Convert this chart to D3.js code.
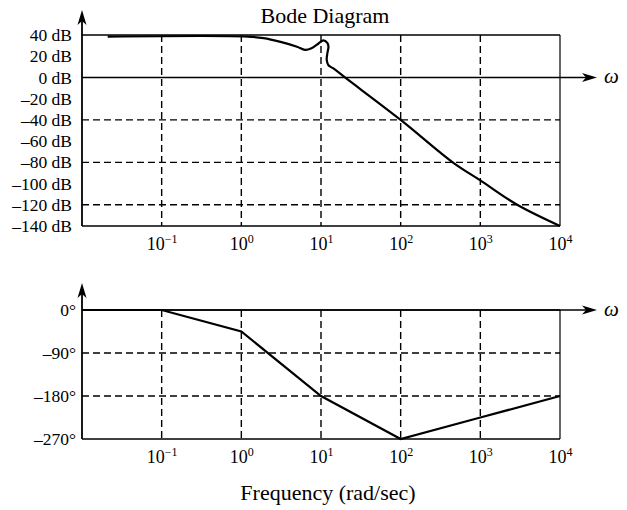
<!DOCTYPE html>
<html>
<head>
<meta charset="utf-8">
<script src="https://cdn.jsdelivr.net/npm/d3@7"></script>
<style>
  body { margin: 0; background: #fff; }
  svg { display: block; font-family: "Liberation Serif", "Times New Roman", serif; }
</style>
</head>
<body>
<script>
const width = 627;
const height = 510;

// magnitude curve (rad/sec, dB)
const magFreq = [0.021, 1.2, 1.9, 3.1, 5.0, 6.3, 7.6, 9.3, 10.7, 12.0, 12.4, 12.0, 11.8, 12.4, 14.3, 20, 100, 450, 1000, 2900, 10000];
const magDb   = [38.5, 38.5, 37, 33.5, 29, 26, 27.5, 32, 35, 32.5, 29, 22.5, 16.5, 11.5, 8.5, 0, -40, -80, -97, -120, -140];

// phase curve (rad/sec, degrees)
const phaseFreq = [0.01, 0.1, 1, 10, 100, 1000, 10000];
const phaseDeg  = [0, 0, -45, -180, -270, -225, -180];

// ticks
const freqTicks = [0.1, 1, 10, 100, 1000, 10000];
const gridFreq = [0.1, 1, 10, 100, 1000];
const magTicks = [40, 20, 0, -20, -40, -60, -80, -100, -120, -140];
const magGrid = [-40, -80, -120];
const phaseTicks = [0, -90, -180, -270];
const phaseGrid = [-90, -180];

const x = d3.scaleLog().domain([0.01, 10000]).range([82, 560]);
const yMag = d3.scaleLinear().domain([-140, 40]).range([226, 35]);
const yPh = d3.scaleLinear().domain([-270, 0]).range([439, 310]);

const svg = d3.select(document.body).append("svg")
    .attr("width", width)
    .attr("height", height);

svg.append("rect").attr("width", width).attr("height", height).attr("fill", "#fff");

const minus = v => (v < 0 ? "\u2013" : "") + Math.abs(v);

function arrowHead(g, tipX, tipY, dir) {
    // dir: "up" or "right"
    const l = 15, w = 4.5;
    let pts;
    if (dir === "up") pts = [[tipX, tipY], [tipX + w, tipY + l], [tipX, tipY + l - 4], [tipX - w, tipY + l]];
    else pts = [[tipX, tipY], [tipX - l, tipY - w], [tipX - l + 4, tipY], [tipX - l, tipY + w]];
    g.append("path").attr("d", "M" + pts.join("L") + "Z").attr("fill", "#000");
}

function superscriptTicks(axisG) {
    axisG.selectAll(".tick text").each(function (d) {
        const t = d3.select(this);
        const e = Math.round(Math.log10(d));
        t.text("");
        t.append("tspan").text("10");
        t.append("tspan").attr("dy", "-0.55em").attr("font-size", "12px").text(e < 0 ? "\u2212" + Math.abs(e) : e);
    });
}

function panel(y, yTicks, yFmt, gridY, yTopVal, zeroVal, arrowTop, tickPad) {
    const g = svg.append("g");
    const [y0, y1] = [y(y.domain()[0]), y(yTopVal)];

    // dashed grid
    g.append("g").selectAll("line").data(gridFreq).join("line")
        .attr("x1", d => x(d)).attr("x2", d => x(d))
        .attr("y1", y1).attr("y2", y0)
        .attr("stroke", "#000").attr("stroke-width", 1.4).attr("stroke-dasharray", "7,4");
    g.append("g").selectAll("line").data(gridY).join("line")
        .attr("x1", x.range()[0]).attr("x2", x.range()[1])
        .attr("y1", d => y(d)).attr("y2", d => y(d))
        .attr("stroke", "#000").attr("stroke-width", 1.4).attr("stroke-dasharray", "7,4");

    // frame
    const fr = g.append("g").attr("stroke", "#000").attr("fill", "none");
    fr.append("line").attr("x1", x.range()[0]).attr("x2", x.range()[1]).attr("y1", y0).attr("y2", y0).attr("stroke-width", 1.6);
    fr.append("line").attr("x1", x.range()[1]).attr("x2", x.range()[1]).attr("y1", y0).attr("y2", y1).attr("stroke-width", 1.2);
    fr.append("line").attr("x1", x.range()[0]).attr("x2", x.range()[1]).attr("y1", y1).attr("y2", y1).attr("stroke-width", 1.4);
    // y axis with arrow
    fr.append("line").attr("x1", x.range()[0]).attr("x2", x.range()[0]).attr("y1", y0).attr("y2", arrowTop + 6).attr("stroke-width", 1.8);
    arrowHead(g, x.range()[0], arrowTop, "up");
    // omega axis
    const yz = y(zeroVal);
    fr.append("line").attr("x1", x.range()[0]).attr("x2", 590).attr("y1", yz).attr("y2", yz).attr("stroke-width", 1.6);
    arrowHead(g, 597, yz, "right");
    g.append("text").attr("x", 604).attr("y", yz + 6)
        .attr("font-size", 21).attr("font-style", "italic").text("\u03c9");

    // y tick labels
    const ya = g.append("g").attr("transform", `translate(${x.range()[0]},0)`)
        .call(d3.axisLeft(y).tickValues(yTicks).tickFormat(yFmt).tickSize(0).tickPadding(tickPad));
    ya.select(".domain").remove();
    ya.attr("font-family", null).attr("font-size", 17.5);
    ya.selectAll("text").attr("fill", "#000");

    // x tick labels
    const xa = g.append("g").attr("transform", `translate(0,${y0})`)
        .call(d3.axisBottom(x).tickValues(freqTicks).tickSize(0).tickPadding(11));
    xa.select(".domain").remove();
    xa.attr("font-family", null).attr("font-size", 18);
    xa.selectAll("text").attr("fill", "#000");
    superscriptTicks(xa);
    return g;
}

panel(yMag, magTicks, d => minus(d) + " dB", magGrid, 40, 0, 10, 10);
panel(yPh, phaseTicks, d => minus(d) + "\u00b0", phaseGrid, 0, 0, 283, 6);

// curves
const magLine = d3.line()
    .x((d, i) => x(magFreq[i]))
    .y((d, i) => yMag(magDb[i]))
    .curve(d3.curveCatmullRom.alpha(0.5));
svg.append("path").datum(magDb).attr("d", magLine)
    .attr("fill", "none").attr("stroke", "#000").attr("stroke-width", 2.2);

const phLine = d3.line()
    .x((d, i) => x(phaseFreq[i]))
    .y((d, i) => yPh(phaseDeg[i]));
svg.append("path").datum(phaseDeg).attr("d", phLine)
    .attr("fill", "none").attr("stroke", "#000").attr("stroke-width", 2.2);

// titles
svg.append("text").attr("x", 325).attr("y", 23).attr("text-anchor", "middle")
    .attr("font-size", 22).text("Bode Diagram");
svg.append("text").attr("x", 328).attr("y", 500).attr("text-anchor", "middle")
    .attr("font-size", 22).text("Frequency (rad/sec)");
</script>
</body>
</html>
